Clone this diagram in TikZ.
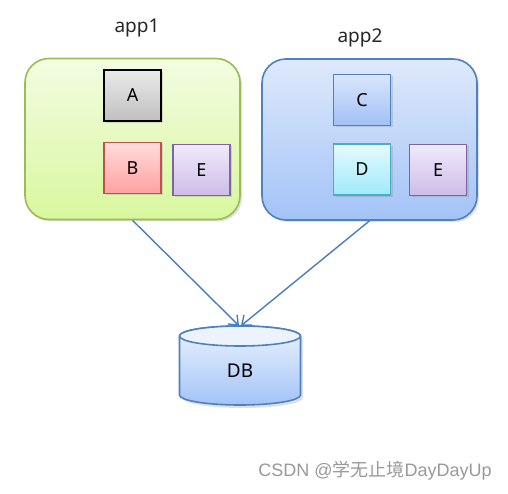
\documentclass[tikz,border=0pt]{standalone}
\usepackage{fontspec}
\setmainfont{Noto Sans}
\newfontfamily\cjk{Noto Sans CJK SC}
\newfontfamily\marksans{Liberation Sans}
\usetikzlibrary{arrows.meta,shadows}
\definecolor{dbline}{RGB}{79,129,189}
\definecolor{dbtop}{RGB}{236,243,253}
\definecolor{dbbottom}{RGB}{163,195,247}
\begin{document}
\begin{tikzpicture}
		[x=1pt,y=-1pt,
		appbox/.style={rounded corners=24pt,line width=1.6pt,minimum width=215pt,minimum height=161pt,
drop shadow={opacity=0.25,shadow xshift=2pt,shadow yshift=-2pt}},
		item/.style={draw,line width=1.6pt,minimum width=57pt,minimum height=51pt,inner sep=0pt,
font=\fontsize{18}{20}\selectfont,drop shadow={opacity=0.25,shadow xshift=2pt,shadow yshift=-2pt}},
		label/.style={font=\fontsize{19}{22}\selectfont,text=black!85},
		edgestyle/.style={-{Straight Barb[length=8pt,width=13pt,line width=1.4pt]},
draw={rgb,255:red,74;green,126;blue,187},line width=1.4pt}]
		\fill[white] (0,0) rectangle (508,494);
		% the two apps
		\node at (132.5, 139) (app1) [appbox,draw={rgb,255:red,155;green,187;blue,89},
top color={rgb,255:red,243;green,252;blue,226},bottom color={rgb,255:red,216;green,247;blue,158}] {};
		\node at (369.5, 139.5) (app2) [appbox,draw={rgb,255:red,79;green,129;blue,189},
top color={rgb,255:red,222;green,233;blue,251},bottom color={rgb,255:red,163;green,195;blue,247}] {};
		\node at (137, 28) (t1) [label] {app1};
		\node at (360, 38) (t2) [label] {app2};
		% modules
		\node at (132.5, 95.5) (a) [item,draw=black,top color=black!8,bottom color=black!25] {A};
		\node at (132.5, 168) (b) [item,draw={rgb,255:red,192;green,80;blue,77},
top color={rgb,255:red,255;green,220;blue,220},bottom color={rgb,255:red,255;green,160;blue,160}] {B};
		\node at (201.5, 170) (e1) [item,draw={rgb,255:red,128;green,100;blue,162},
top color={rgb,255:red,240;green,234;blue,250},bottom color={rgb,255:red,205;green,188;blue,232}] {E};
		\node at (362, 100) (c) [item,draw={rgb,255:red,79;green,129;blue,189},
top color={rgb,255:red,218;green,230;blue,252},bottom color={rgb,255:red,160;green,192;blue,247}] {C};
		\node at (362, 169.5) (d) [item,draw={rgb,255:red,75;green,172;blue,198},
top color={rgb,255:red,228;green,250;blue,255},bottom color={rgb,255:red,160;green,234;blue,248}] {D};
		\node at (438, 170) (e2) [item,draw={rgb,255:red,128;green,100;blue,162},
top color={rgb,255:red,240;green,234;blue,250},bottom color={rgb,255:red,205;green,188;blue,232}] {E};
		% database drum
		\fill[black,opacity=0.12] (182,339) -- (182,398) arc[start angle=180,end angle=0,x radius=60.5,y radius=10]
			-- (303,339) arc[start angle=0,end angle=-180,x radius=60.5,y radius=10] -- cycle;
		\draw[dbline,line width=1.6pt,top color=dbtop,bottom color=dbbottom]
			(179.5,336) -- (179.5,395) arc[start angle=180,end angle=0,x radius=60.5,y radius=10]
			-- (300.5,336) arc[start angle=0,end angle=-180,x radius=60.5,y radius=10] -- cycle;
		\draw[dbline,line width=1.6pt,fill=dbtop] (240,336) ellipse[x radius=60.5,y radius=10];
		\node at (240, 370.5) (db) [minimum width=121pt,minimum height=69pt,inner sep=0pt,
font=\fontsize{19}{20}\selectfont] {DB};
		\draw [edgestyle] (app1.south) -- ([xshift=-1pt,yshift=10pt]db.north);
		\draw [edgestyle] (app2.south) -- ([xshift=1pt,yshift=10pt]db.north);
		\node at (375, 471) (mark) [font=\marksans\fontsize{18}{20}\selectfont,text=black!40] {CSDN @{\cjk 学无止境}DayDayUp};
	\end{tikzpicture}
\end{document}
